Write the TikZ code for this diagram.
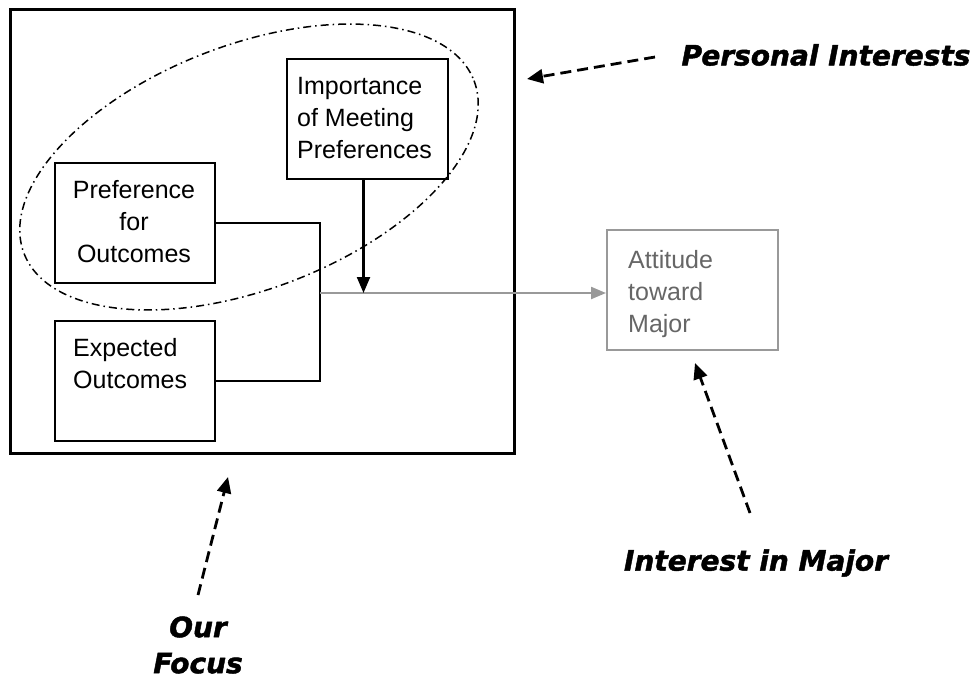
\documentclass[tikz,border=0pt]{standalone}
\usepackage{fontspec}
\setmainfont{Liberation Sans}
\newfontfamily\labelfont[BoldItalicFeatures={FakeBold=1.6}]{DejaVu Sans}
\usetikzlibrary{arrows.meta,calc}
\definecolor{linegray}{HTML}{999999}
\definecolor{textgray}{HTML}{666666}
\tikzset{
  box/.style={draw, line width=2pt, inner sep=0pt, anchor=north west, minimum height=120pt},
  boxtext/.style={inner sep=0pt, align=left, font=\fontsize{25}{32}\selectfont},
  conn/.style={line width=2pt},
  blackarrow/.style={line width=2.2pt, -{Triangle[length=16pt,width=13pt]}},
  grayarrow/.style={draw=linegray, line width=2.2pt, -{Triangle[length=15pt,width=12pt]}, color=linegray},
  dasharrow/.style={line width=2.8pt, dash pattern=on 11pt off 6pt, -{Triangle[length=16pt,width=14pt]}},
  lab/.style={inner sep=0pt, font=\labelfont\bfseries\itshape\fontsize{28}{36}\selectfont},
  focusline/.style={line width=1.5pt, dash pattern=on 8pt off 4pt on 1.5pt off 4pt}
}
\begin{document}
\begin{tikzpicture}[x=1pt,y=-1pt]
\useasboundingbox (0,0) rectangle (979,683);

% outer focus box
\node[draw, line width=2.5pt, inner sep=0pt, anchor=north west, minimum width=504pt, minimum height=444pt] (focus) at (9,8) {};

% boxes
\node[box, minimum width=161pt] (imp) at (286,58) {};
\node[box, minimum width=160pt] (pref) at (54,162) {};
\node[box, minimum width=160pt] (exp) at (54,320) {};
\node[box, draw=linegray, minimum width=171pt] (att) at (606,229) {};

% box texts
\node[boxtext, anchor=north west] (impT) at (297,77) {Importance\\of Meeting\\Preferences};
\node[boxtext, anchor=north, align=center] (prefT) at (134,180) {Preference\\for\\Outcomes};
\node[boxtext, anchor=north west] (expT) at (73,338) {Expected\\Outcomes};
\node[boxtext, anchor=north west, text=textgray] (attT) at (628,250) {Attitude\\toward\\Major};

% ellipse
\draw[focusline, rotate around={21:(249,167)}] (249,167) ellipse [x radius=241, y radius=122];

% connectors
\coordinate (j) at (320,293);
\draw[conn] (pref.east) -- (pref.east -| j) |- (exp.east);
\draw[grayarrow] (j) -- (j -| att.west);
\coordinate (impout) at ($(imp.south)+(-4,0)$);
\draw[blackarrow] (impout) -- (impout |- j);

% labels
\node[lab] (pi) at (826,55) {Personal Interests};
\node[lab] (im) at (756,563) {Interest in Major};
\node[lab, align=center] (of) at (198,645) {Our\\Focus};

% dashed arrows
\coordinate (piA) at (655,57);
\coordinate (piB) at (527,79);
\draw[dasharrow] (piA) -- (piB);
\coordinate (imA) at (750,513);
\coordinate (imB) at (695,363);
\draw[dasharrow] (imA) -- (imB);
\coordinate (ofA) at (198,595);
\coordinate (ofB) at (228,477);
\draw[dasharrow] (ofA) -- (ofB);
\end{tikzpicture}
\end{document}
